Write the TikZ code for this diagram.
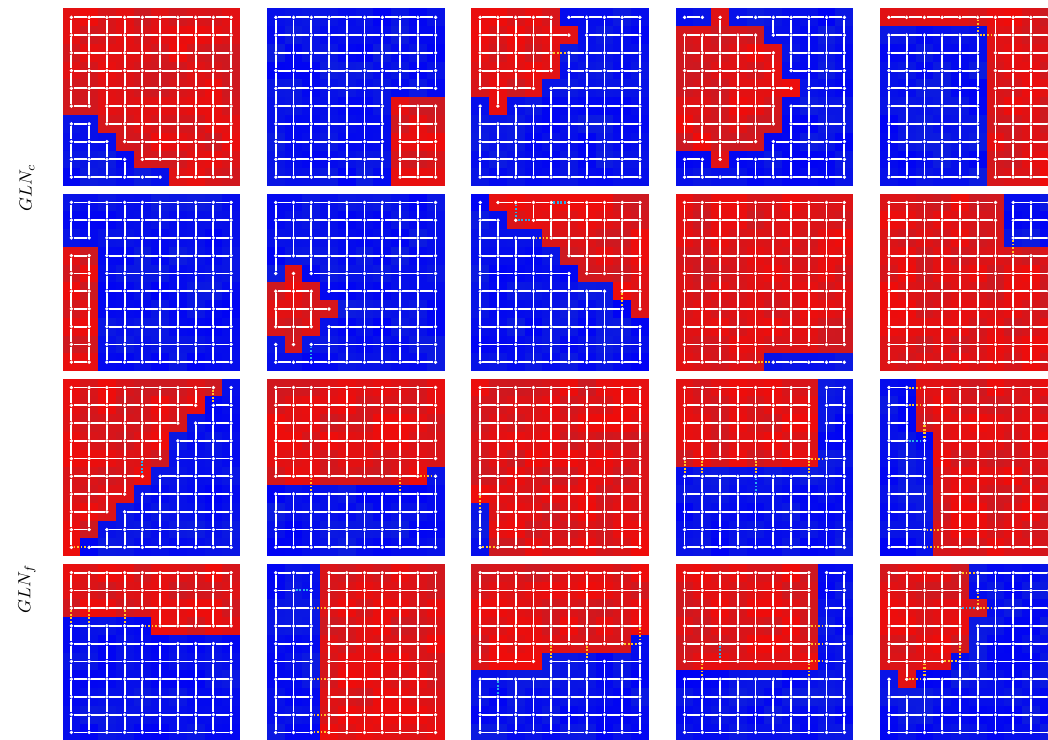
\documentclass[tikz,border=0pt]{standalone}
\definecolor{hueR}{RGB}{240,12,10}
\definecolor{deepR}{RGB}{185,32,45}
\definecolor{hueB}{RGB}{0,2,245}
\definecolor{deepB}{RGB}{18,40,212}
\definecolor{cutY}{RGB}{255,196,40}
\definecolor{cutC}{RGB}{40,175,235}
\tikzset{
  vtx/.style={circle,fill=white,inner sep=0pt,minimum size=0.075cm},
  link/.style={white,line width=1pt},
  edgey/.style={cutY,line width=1.2pt,dash pattern=on 1pt off 1pt},
  edgec/.style={cutC,line width=1.2pt,dash pattern=on 1pt off 1pt},
  tag/.style={rotate=90,font=\normalsize},
}
\newcount\rr \newcount\cc
\def\cellw{17.75}
% one row of labels, read char by char
\def\readrow#1{\ifx#1\relax\else
  \expandafter\xdef\csname L\pid-\the\rr-\the\cc\endcsname{#1}%
  \global\advance\cc by 1 \expandafter\readrow\fi}
% #1 id, #2 column, #3 row, #4 labels, #5 marked edges
\newcommand\panel[5]{%
  \def\pid{#1}\global\rr=0
  \foreach \s in {#4}{\global\cc=0 \expandafter\readrow\s\relax\global\advance\rr by 1 }
  \foreach \dir/\ra/\ca/\tn in {#5}{\expandafter\gdef\csname S#1-\dir\ra-\ca\endcsname{}}
  \begin{scope}[shift={({62.5+204.4*#2},{8.5+185.1*#3})}]
    \foreach \r in {0,...,9}{\foreach \c in {0,...,9}{
      \edef\L{\csname L\pid-\r-\c\endcsname}
      \pgfmathsetmacro\m{int(35+65*rnd)}
      \fill[fill=hue\L!\m!deep\L] ({\c*\cellw},{\r*\cellw}) rectangle ++(17.9,17.9);
      \node[vtx] (\pid-\r-\c) at ({(\c+0.5)*\cellw},{(\r+0.5)*\cellw}) {};
    }}
    \foreach \r in {0,...,9}{\foreach \c [evaluate=\c as \cn using int(\c+1)] in {0,...,8}{
      \if\csname L\pid-\r-\c\endcsname\csname L\pid-\r-\cn\endcsname
        \ifcsname S\pid-h\r-\c\endcsname\else\draw[link] (\pid-\r-\c) -- (\pid-\r-\cn);\fi
      \fi}}
    \foreach \r [evaluate=\r as \rn using int(\r+1)] in {0,...,8}{\foreach \c in {0,...,9}{
      \if\csname L\pid-\r-\c\endcsname\csname L\pid-\rn-\c\endcsname
        \ifcsname S\pid-v\r-\c\endcsname\else\draw[link] (\pid-\r-\c) -- (\pid-\rn-\c);\fi
      \fi}}
    \foreach \dir/\ra/\ca/\tn in {#5}{
      \if\tn n\else
        \if\dir h\edef\rb{\ra}\pgfmathtruncatemacro\cb{\ca+1}%
        \else\pgfmathtruncatemacro\rb{\ra+1}\edef\cb{\ca}\fi
        \draw[edge\tn] (\pid-\ra-\ca) -- (\pid-\rb-\cb);
      \fi}
  \end{scope}}

\begin{document}
\begin{tikzpicture}[x=0.02cm,y=-0.02cm]
\useasboundingbox (0,0) rectangle (1048,740);
\clip (0,0) rectangle (1048,740);
\pgfmathsetseed{11}
% GLN_c rows
\panel{p11}{0}{0}{RRRRRRRRRR,RRRRRRRRRR,RRRRRRRRRR,RRRRRRRRRR,RRRRRRRRRR,RRRRRRRRRR,BBRRRRRRRR,BBBRRRRRRR,BBBBRRRRRR,BBBBBBRRRR}{h/5/1/n}
\panel{p12}{1}{0}{BBBBBBBBBB,BBBBBBBBBB,BBBBBBBBBB,BBBBBBBBBB,BBBBBBBBBB,BBBBBBBRRR,BBBBBBBRRR,BBBBBBBRRR,BBBBBBBRRR,BBBBBBBRRR}{n/0/0/n}
\panel{p13}{2}{0}{RRRRRBBBBB,RRRRRRBBBB,RRRRRBBBBB,RRRRRBBBBB,RRRRBBBBBB,BRBBBBBBBB,BBBBBBBBBB,BBBBBBBBBB,BBBBBBBBBB,BBBBBBBBBB}{h/2/4/y}
\panel{p14}{3}{0}{BBRBBBBBBB,RRRRRBBBBB,RRRRRRBBBB,RRRRRRBBBB,RRRRRRRBBB,RRRRRRBBBB,RRRRRRBBBB,RRRRRBBBBB,BBRBBBBBBB,BBBBBBBBBB}{n/0/0/n}
\panel{p15}{4}{0}{RRRRRRRRRR,BBBBBBRRRR,BBBBBBRRRR,BBBBBBRRRR,BBBBBBRRRR,BBBBBBRRRR,BBBBBBRRRR,BBBBBBRRRR,BBBBBBRRRR,BBBBBBRRRR}{v/0/5/y,h/1/5/y}
\panel{p21}{0}{1}{BBBBBBBBBB,BBBBBBBBBB,BBBBBBBBBB,RRBBBBBBBB,RRBBBBBBBB,RRBBBBBBBB,RRBBBBBBBB,RRBBBBBBBB,RRBBBBBBBB,RRBBBBBBBB}{h/2/1/n}
\panel{p22}{1}{1}{BBBBBBBBBB,BBBBBBBBBB,BBBBBBBBBB,BBBBBBBBBB,BRBBBBBBBB,RRRBBBBBBB,RRRRBBBBBB,RRRBBBBBBB,BRBBBBBBBB,BBBBBBBBBB}{v/8/2/c}
\panel{p23}{2}{1}{BRRRRRRRRR,BBRRRRRRRR,BBBBRRRRRR,BBBBBRRRRR,BBBBBBRRRR,BBBBBBBBRR,BBBBBBBBBR,BBBBBBBBBB,BBBBBBBBBB,BBBBBBBBBB}{v/0/2/c,h/0/4/c,h/1/2/c,h/2/3/y,v/5/8/y}
\panel{p24}{3}{1}{RRRRRRRRRR,RRRRRRRRRR,RRRRRRRRRR,RRRRRRRRRR,RRRRRRRRRR,RRRRRRRRRR,RRRRRRRRRR,RRRRRRRRRR,RRRRRRRRRR,RRRRRBBBBB}{h/9/4/y}
\panel{p25}{4}{1}{RRRRRRRBBB,RRRRRRRBBB,RRRRRRRBBB,RRRRRRRRRR,RRRRRRRRRR,RRRRRRRRRR,RRRRRRRRRR,RRRRRRRRRR,RRRRRRRRRR,RRRRRRRRRR}{v/2/7/y}
% GLN_f rows
\panel{p31}{0}{2}{RRRRRRRRRB,RRRRRRRRBB,RRRRRRRBBB,RRRRRRBBBB,RRRRRRBBBB,RRRRRBBBBB,RRRRBBBBBB,RRRBBBBBBB,RRBBBBBBBB,RBBBBBBBBB}{v/0/8/y,v/4/4/c,h/9/0/y}
\panel{p32}{1}{2}{RRRRRRRRRR,RRRRRRRRRR,RRRRRRRRRR,RRRRRRRRRR,RRRRRRRRRR,RRRRRRRRRB,BBBBBBBBBB,BBBBBBBBBB,BBBBBBBBBB,BBBBBBBBBB}{v/5/2/y,v/5/7/y,h/5/8/y}
\panel{p33}{2}{2}{RRRRRRRRRR,RRRRRRRRRR,RRRRRRRRRR,RRRRRRRRRR,RRRRRRRRRR,RRRRRRRRRR,RRRRRRRRRR,BRRRRRRRRR,BRRRRRRRRR,BRRRRRRRRR}{v/6/0/y,h/9/0/y}
\panel{p34}{3}{2}{RRRRRRRRBB,RRRRRRRRBB,RRRRRRRRBB,RRRRRRRRBB,RRRRRRRRBB,BBBBBBBBBB,BBBBBBBBBB,BBBBBBBBBB,BBBBBBBBBB,BBBBBBBBBB}{v/4/0/y,v/4/1/y,v/4/4/y,v/5/4/c,v/4/7/y,h/4/7/y}
\panel{p35}{4}{2}{BBRRRRRRRR,BBRRRRRRRR,BBRRRRRRRR,BBBRRRRRRR,BBBRRRRRRR,BBBRRRRRRR,BBBRRRRRRR,BBBRRRRRRR,BBBRRRRRRR,BBBRRRRRRR}{h/0/1/y,h/1/1/y,v/2/2/y,h/3/1/c,h/8/2/y,h/9/2/y}
\panel{p41}{0}{3}{RRRRRRRRRR,RRRRRRRRRR,RRRRRRRRRR,BBBBBRRRRR,BBBBBBBBBB,BBBBBBBBBB,BBBBBBBBBB,BBBBBBBBBB,BBBBBBBBBB,BBBBBBBBBB}{v/2/0/y,v/2/1/y,v/2/3/y,h/3/4/y}
\panel{p42}{1}{3}{BBBRRRRRRR,BBBRRRRRRR,BBBRRRRRRR,BBBRRRRRRR,BBBRRRRRRR,BBBRRRRRRR,BBBRRRRRRR,BBBRRRRRRR,BBBRRRRRRR,BBBRRRRRRR}{h/1/1/c,h/2/2/y,h/6/2/y,h/8/2/y,h/9/2/y}
\panel{p43}{2}{3}{RRRRRRRRRR,RRRRRRRRRR,RRRRRRRRRR,RRRRRRRRRR,RRRRRRRRRB,RRRRBBBBBB,BBBBBBBBBB,BBBBBBBBBB,BBBBBBBBBB,BBBBBBBBBB}{v/3/9/y,h/4/8/y,v/4/4/y,v/4/6/y,v/6/1/c}
\panel{p44}{3}{3}{RRRRRRRRBB,RRRRRRRRBB,RRRRRRRRBB,RRRRRRRRBB,RRRRRRRRBB,RRRRRRRRBB,BBBBBBBBBB,BBBBBBBBBB,BBBBBBBBBB,BBBBBBBBBB}{v/4/2/c,h/3/7/y,h/4/7/y,h/5/7/y,v/5/1/y,v/5/7/y}
\panel{p45}{4}{3}{RRRRRBBBBB,RRRRRBBBBB,RRRRRRBBBB,RRRRRBBBBB,RRRRRBBBBB,RRRRBBBBBB,BRBBBBBBBB,BBBBBBBBBB,BBBBBBBBBB,BBBBBBBBBB}{h/0/4/y,v/1/5/y,h/2/4/c,h/2/5/y,v/4/4/y,h/5/3/y,h/6/1/y,v/5/2/y}
\node[tag] (glnc) at (27,188) {$GLN_c$};
\node[tag] (glnf) at (27,589) {$GLN_f$};
\end{tikzpicture}
\end{document}
